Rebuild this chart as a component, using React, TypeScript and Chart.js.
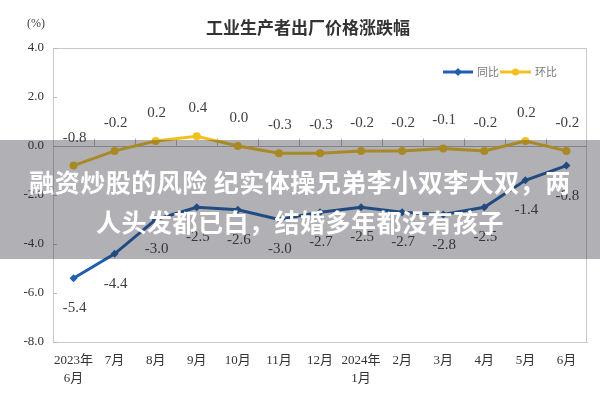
import React, { useEffect, useRef } from "react";
import { Chart, registerables } from "chart.js";

Chart.register(...registerables);

const categories: string[][] = [
  ["2023年", "6月"], ["7月"], ["8月"], ["9月"], ["10月"], ["11月"], ["12月"],
  ["2024年", "1月"], ["2月"], ["3月"], ["4月"], ["5月"], ["6月"],
];
const yoyValues = [-5.4, -4.4, -3.0, -2.5, -2.6, -3.0, -2.7, -2.5, -2.7, -2.8, -2.5, -1.4, -0.8];
const momValues = [-0.8, -0.2, 0.2, 0.4, 0.0, -0.3, -0.3, -0.2, -0.2, -0.1, -0.2, 0.2, -0.2];
const seriesNames = ["同比", "环比"];
const yTicks = [4, 2, 0, -2, -4, -6, -8];
const chartTitle = "工业生产者出厂价格涨跌幅";
const unitLabel = "(%)";
const overlayLines = ["融资炒股的风险 纪实体操兄弟李小双李大双，两", "人头发都已白，结婚多年都没有孩子"];

const BLUE = "#1f5fad";
const YELLOW = "#f2c11d";
const SERIF = '"Liberation Serif", "Noto Sans CJK SC", serif';
const SANS = '"Noto Sans CJK SC", "Noto Sans", sans-serif';

const decorPlugin = {
  id: "decor",
  beforeDatasetsDraw(chart: any) {
    const { ctx, chartArea: a, scales } = chart;
    const y = scales.y;
    ctx.save();
    ctx.strokeStyle = "#c9c9c9";
    ctx.lineWidth = 1;
    ctx.strokeRect(a.left + 0.5, a.top + 0.5, a.right - a.left - 1, a.bottom - a.top);
    const y0 = Math.round(y.getPixelForValue(0)) + 0.5;
    ctx.strokeStyle = "#b8b8b8";
    ctx.beginPath();
    ctx.moveTo(a.left, y0);
    ctx.lineTo(a.right, y0);
    const n = categories.length;
    const step = (a.right - a.left) / n;
    for (let k = 1; k < n; k++) {
      const xx = Math.round(a.left + k * step) + 0.5;
      ctx.moveTo(xx, y0);
      ctx.lineTo(xx, y0 - 8);
    }
    for (const v of yTicks) {
      const yy = Math.round(y.getPixelForValue(v)) + 0.5;
      ctx.moveTo(a.left, yy);
      ctx.lineTo(a.left + 4, yy);
    }
    ctx.stroke();
    ctx.restore();
  },
  afterDatasetsDraw(chart: any) {
    const { ctx } = chart;
    ctx.save();
    ctx.font = `15px ${SERIF}`;
    ctx.fillStyle = "#404040";
    ctx.textAlign = "center";
    ctx.textBaseline = "middle";
    const fmt = (v: number) => (v < 0 ? "-" : "") + Math.abs(v).toFixed(1);
    const m0 = chart.getDatasetMeta(0);
    m0.data.forEach((p: any, i: number) => {
      ctx.fillText(fmt(yoyValues[i]), p.x + 1, p.y + 30);
    });
    const m1 = chart.getDatasetMeta(1);
    m1.data.forEach((p: any, i: number) => {
      ctx.fillText(fmt(momValues[i]), p.x + 1, p.y - 28);
    });
    ctx.font = `bold 17px ${SANS}`;
    ctx.fillStyle = "#333";
    ctx.fillText(chartTitle, 308, 28);
    ctx.font = `12px ${SERIF}`;
    ctx.fillStyle = "#444";
    ctx.fillText(unitLabel, 36, 24);
    const ly = 72;
    ctx.lineWidth = 3;
    ctx.strokeStyle = BLUE;
    ctx.beginPath();
    ctx.moveTo(443, ly);
    ctx.lineTo(473, ly);
    ctx.stroke();
    ctx.fillStyle = BLUE;
    ctx.beginPath();
    ctx.moveTo(458, ly - 4);
    ctx.lineTo(462, ly);
    ctx.lineTo(458, ly + 4);
    ctx.lineTo(454, ly);
    ctx.closePath();
    ctx.fill();
    ctx.strokeStyle = YELLOW;
    ctx.beginPath();
    ctx.moveTo(500, ly);
    ctx.lineTo(531, ly);
    ctx.stroke();
    ctx.fillStyle = YELLOW;
    ctx.beginPath();
    ctx.arc(515.5, ly, 3.5, 0, Math.PI * 2);
    ctx.fill();
    ctx.font = `11px ${SANS}`;
    ctx.fillStyle = "#777";
    ctx.textAlign = "left";
    ctx.fillText(seriesNames[0], 477, ly);
    ctx.fillText(seriesNames[1], 535, ly);
    ctx.restore();
  },
};

export default function App() {
  const ref = useRef<HTMLCanvasElement>(null);
  useEffect(() => {
    document.body.style.margin = "0";
    const chart = new Chart(ref.current as HTMLCanvasElement, {
      type: "line",
      data: {
        labels: categories,
        datasets: [
          {
            label: seriesNames[0],
            data: yoyValues,
            borderColor: BLUE,
            backgroundColor: BLUE,
            borderWidth: 3,
            pointStyle: "rectRot",
            pointRadius: 4,
            pointBorderWidth: 0,
            tension: 0,
          },
          {
            label: seriesNames[1],
            data: momValues,
            borderColor: YELLOW,
            backgroundColor: YELLOW,
            borderWidth: 3,
            pointStyle: "circle",
            pointRadius: 4,
            pointBorderWidth: 0,
            tension: 0,
          },
        ],
      },
      options: {
        responsive: false,
        animation: false,
        layout: { padding: { left: 0, right: 13, top: 48, bottom: 0 } },
        plugins: {
          legend: { display: false },
          title: { display: false },
          tooltip: { enabled: false },
        },
        scales: {
          x: {
            offset: true,
            grid: { display: false, drawTicks: false },
            border: { color: "#c9c9c9" },
            ticks: {
              color: "#333",
              font: { family: SERIF, size: 13, lineHeight: 1.4 },
              padding: 9,
              maxRotation: 0,
              autoSkip: false,
            },
            afterFit(s: any) {
              s.height = 58;
            },
          },
          y: {
            min: -8,
            max: 4,
            grid: { display: false, drawTicks: false },
            border: { color: "#c9c9c9" },
            afterBuildTicks(s: any) {
              s.ticks = yTicks.map((v) => ({ value: v }));
            },
            ticks: {
              color: "#333",
              font: { family: SERIF, size: 13 },
              padding: 9,
              callback: (v: any) => Number(v).toFixed(1),
            },
            afterFit(s: any) {
              s.width = 53;
            },
          },
        },
      },
      plugins: [decorPlugin],
    });
    return () => chart.destroy();
  }, []);
  return (
    <div style={{ position: "absolute", left: 0, top: 0, width: 600, height: 400, background: "#fff" }}>
      <canvas ref={ref} width={600} height={400} />
      <div
        style={{
          position: "absolute",
          left: 0,
          top: 140,
          width: 600,
          height: 119,
          background: "rgba(40,40,50,0.36)",
          color: "#fff",
          fontFamily: SANS,
          fontWeight: "bold",
          fontSize: 25,
          letterSpacing: "0.5px",
          lineHeight: "40px",
          textAlign: "center",
          paddingTop: 21,
          boxSizing: "border-box",
          whiteSpace: "nowrap",
        }}
      >
        {overlayLines.map((t, i) => (
          <div key={i}>{t}</div>
        ))}
      </div>
    </div>
  );
}
